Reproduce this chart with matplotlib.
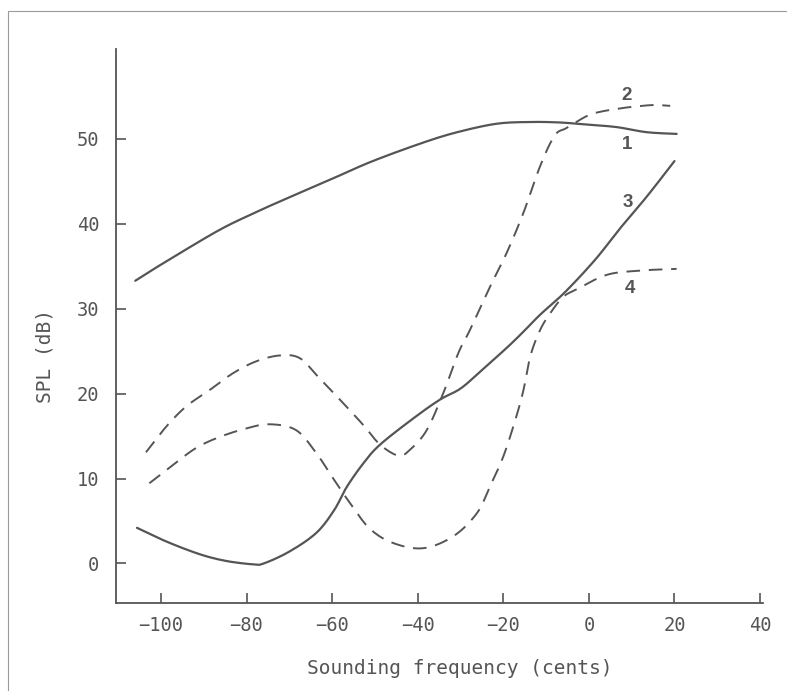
import numpy as np
import matplotlib.pyplot as plt
from matplotlib.patches import Rectangle

# curve 1 (solid, upper)
x1 = [-106, -100, -87, -79, -71.5, -60.5, -50.5, -38, -30, -21.5, -14, -7, -0.5, 6.5, 13.5, 20.5]
y1 = [33.3, 35.2, 39.1, 41.1, 42.8, 45.2, 47.4, 49.7, 50.9, 51.8, 52.0, 51.95, 51.7, 51.4, 50.8, 50.6]

# curve 2 (dashed, ends near 54)
x2 = [-103.5, -98.8, -94.1, -88.7, -83.2, -77.8, -72.3, -67.6, -63.3, -58, -52.7, -48.8, -44.5,
      -41.8, -37.9, -34, -30.5, -27.8, -23.1, -19.2, -15.3, -11.4, -8, -5.2, -0.5, 2.6, 7.3, 10.4, 15.1, 19]
y2 = [13.1, 16.1, 18.5, 20.4, 22.4, 23.8, 24.5, 24.2, 22.0, 19.2, 16.3, 14.0, 12.7,
      13.4, 15.7, 20.1, 24.8, 27.5, 32.6, 36.6, 41.3, 46.8, 50.4, 51.3, 52.7, 53.2, 53.6, 53.8, 54.0, 53.9]

# curve 3 (solid, lower)
x3 = [-105.6, -98.8, -91, -84.8, -78.5, -76, -70, -63.7, -59.5, -56.6, -52.7, -48.8, -41, -34.8,
      -30, -25.4, -19.2, -15.3, -11.4, -5.5, 1.5, 7, 13.5, 20]
y3 = [4.2, 2.6, 1.1, 0.3, -0.1, 0.0, 1.4, 3.6, 6.3, 9.0, 11.8, 14.0, 17.1, 19.3,
      20.6, 22.6, 25.4, 27.3, 29.3, 32.0, 35.8, 39.3, 43.2, 47.4]

# curve 4 (dashed, ends near 35)
x4 = [-102.7, -97.2, -91.8, -86.3, -80.1, -74.6, -68.4, -63.7, -60, -55.8, -51.2, -45.7, -38.7,
      -31.7, -26.2, -23.1, -20, -17.2, -15.3, -13.7, -11.4, -9, -6, -2.8, 4.2, 12, 20.5]
y4 = [9.45, 11.6, 13.6, 14.9, 15.9, 16.4, 15.7, 13.0, 10.2, 7.1, 4.1, 2.4, 1.8,
      3.2, 5.9, 9.1, 12.6, 16.9, 20.4, 24.4, 27.5, 29.5, 31.4, 32.3, 34.0, 34.5, 34.7]

curve_labels = ['1', '2', '3', '4']
label_x = [9.0, 8.7, 9.2, 9.5]
label_y = [49.3, 55.1, 42.5, 32.4]

xticks = [-100, -80, -60, -40, -20, 0, 20, 40]
yticks = [0, 10, 20, 30, 40, 50]

ink = '#555555'
mono = 'DejaVu Sans Mono'


def smooth(x, y, n=10):
    # Catmull-Rom path through the read points, so the pen strokes look round
    x = np.asarray(x, float)
    y = np.asarray(y, float)
    px = np.r_[x[0], x, x[-1]]
    py = np.r_[y[0], y, y[-1]]
    t = np.linspace(0, 1, n, endpoint=False)
    xs, ys = [], []
    for i in range(1, len(px) - 2):
        for arr, out in ((px, xs), (py, ys)):
            p0, p1, p2, p3 = arr[i - 1:i + 3]
            out.extend(0.5 * (2 * p1 + (p2 - p0) * t + (2 * p0 - 5 * p1 + 4 * p2 - p3) * t ** 2
                              + (3 * p1 - p0 - 3 * p2 + p3) * t ** 3))
    xs.append(x[-1])
    ys.append(y[-1])
    return xs, ys


fig = plt.figure(figsize=(7.87, 6.91), dpi=100)
ax = fig.add_axes([0.1474, 0.1268, 0.8222, 0.8023])

dash = (0, (7, 4.5))
ax.plot(*smooth(x1, y1), color=ink, lw=1.6, solid_capstyle='round')
ax.plot(*smooth(x2, y2), color=ink, lw=1.4, linestyle=dash)
ax.plot(*smooth(x3, y3), color=ink, lw=1.6, solid_capstyle='round')
ax.plot(*smooth(x4, y4), color=ink, lw=1.4, linestyle=dash)

for t, lx, ly in zip(curve_labels, label_x, label_y):
    ax.text(lx, ly, t, ha='center', va='center', fontsize=13.5, fontweight='bold',
            family='Liberation Sans', color=ink)

ax.set_xlim(-110.5, 40.7)
ax.set_ylim(-4.7, 60.6)
ax.set_xticks(xticks)
ax.set_yticks(yticks)
ax.tick_params(axis='x', direction='in', length=7, width=1.2, color=ink, pad=9,
               labelsize=13.5, labelcolor=ink)
ax.tick_params(axis='y', direction='in', length=7, width=1.2, color=ink, pad=12,
               labelsize=13.5, labelcolor=ink)
for lab in ax.get_xticklabels() + ax.get_yticklabels():
    lab.set_family(mono)

for s in ['top', 'right']:
    ax.spines[s].set_visible(False)
for s in ['left', 'bottom']:
    ax.spines[s].set_color(ink)
    ax.spines[s].set_linewidth(1.3)

fig.text(0.5845, 0.032, 'Sounding frequency (cents)', ha='center', va='center',
         fontsize=14, family=mono, color=ink)
fig.text(0.057, 0.485, 'SPL (dB)', ha='center', va='center', rotation=90,
         fontsize=14, family=mono, color=ink)

# thin frame of the scanned page
fig.patches.append(Rectangle((8 / 787, -0.01), 1.0, 1 - 11 / 691 + 0.01, transform=fig.transFigure,
                             fill=False, edgecolor='#9a9a9a', lw=0.8))

fig.savefig('out.png', dpi=100)
